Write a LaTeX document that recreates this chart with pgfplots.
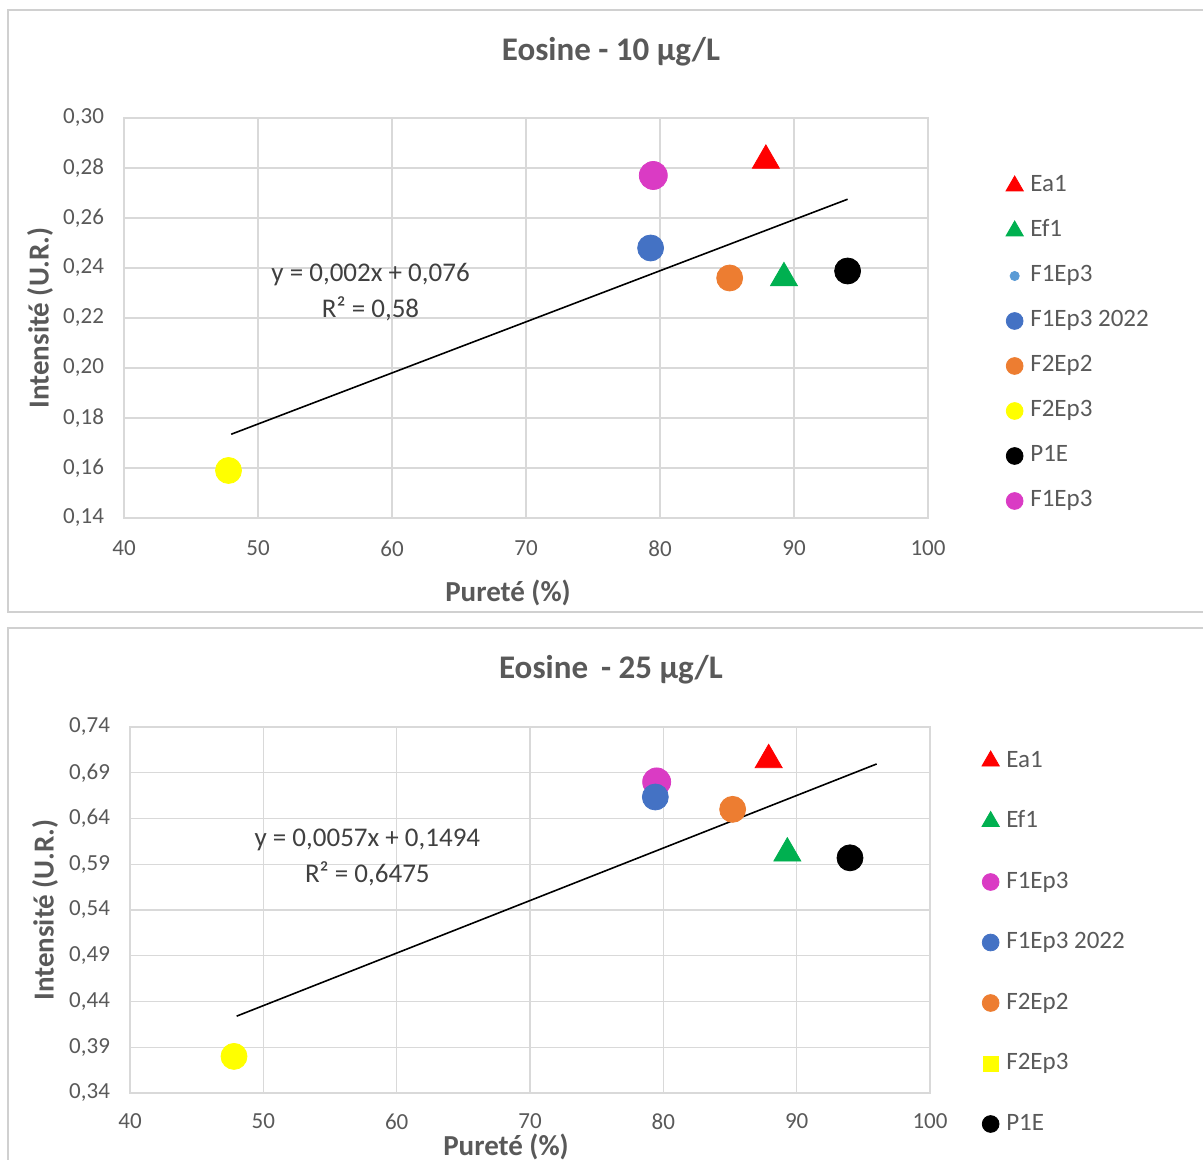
\documentclass[border=0pt]{standalone}
\usepackage{fontspec}
\setmainfont{Carlito}
\usepackage{pgfplots}
\pgfplotsset{compat=1.18}
\definecolor{txt}{HTML}{595959}
\definecolor{eqc}{HTML}{404040}
\definecolor{gridc}{HTML}{D9D9D9}
\definecolor{panelc}{HTML}{D0D0D0}
\definecolor{cred}{HTML}{FF0000}
\definecolor{cgreen}{HTML}{00B050}
\definecolor{cblue}{HTML}{4472C4}
\definecolor{clblue}{HTML}{5B9BD5}
\definecolor{corange}{HTML}{ED7D31}
\definecolor{cyellow}{HTML}{FFFF00}
\definecolor{cmag}{HTML}{DA3BC4}
\pgfplotsset{
  common/.style={
    scale only axis,
    xmin=40, xmax=100, xtick={40,50,60,70,80,90,100},
    grid=major, major grid style={gridc, line width=0.6pt},
    axis line style={gridc, line width=0.6pt},
    major tick length=0pt,
    /pgf/number format/assume math mode=true,
    ticklabel style={font=\fontsize{11.5}{13}\selectfont, text=txt},
    yticklabel style={/pgf/number format/fixed, /pgf/number format/fixed zerofill,
      /pgf/number format/precision=2, /pgf/number format/use comma},
    label style={font=\bfseries\fontsize{14.5}{17}\selectfont, text=txt},
    title style={font=\bfseries\fontsize{16.5}{19}\selectfont, text=txt},
    legend cell align=left,
    legend image code/.code={\draw[#1,only marks] plot coordinates {(0.15cm,0cm)};},
    legend style={draw=none, fill=none, inner sep=0pt, outer sep=0pt,
      anchor=north west, column sep=2.5pt,
      font=\fontsize{12.5}{14}\selectfont, text=txt,
      nodes={inner sep=1pt, text height=9pt, text depth=3pt}},
  },
  tri/.style={only marks, mark=triangle*, mark size=7.8pt, legend image post style={mark size=5pt}},
  dot/.style={only marks, mark=*, mark size=6.5pt, legend image post style={mark size=4.2pt}},
}
\begin{document}
\begin{tikzpicture}
\useasboundingbox (0,0) rectangle (601.5pt,580pt);
\draw[panelc, line width=0.6pt] (4pt,274pt) rectangle (603pt,575pt);
\draw[panelc, line width=0.6pt] (4pt,-2pt) -- (4pt,266pt) -- (603pt,266pt);

\begin{axis}[common,
  at={(62pt,321pt)}, anchor=south west, width=402pt, height=200pt,
  ymin=0.14, ymax=0.30, ytick={0.14,0.16,0.18,0.20,0.22,0.24,0.26,0.28,0.30},
  xticklabel style={yshift=-8pt},
  yticklabel style={xshift=-6.5pt},
  title={Eosine - 10 µg/L},
  title style={at={(axis description cs:0.5,1)}, anchor=center, xshift=42.5pt, yshift=27pt},
  xlabel={Pureté (\%)},
  xlabel style={at={(axis description cs:0.5,0)}, anchor=center, xshift=-9pt, yshift=-37.5pt},
  ylabel={Intensité (U.R.)},
  ylabel style={at={(axis description cs:-0.1045,0.5)}, anchor=center},
  legend style={at={(axis description cs:1,1)}, xshift=39pt, yshift=-27pt,
    row sep=8.5pt},
]
\addplot[tri, color=cred] coordinates {(87.9,0.283)};
\addlegendentry{Ea1}
\addplot[tri, color=cgreen] coordinates {(89.25,0.236)};
\addlegendentry{Ef1}
\addlegendimage{only marks, mark=*, color=clblue, mark size=2.3pt}
\addlegendentry{F1Ep3}
\addplot[dot, color=cblue] coordinates {(79.3,0.248)};
\addlegendentry{F1Ep3 2022}
\addplot[dot, color=corange] coordinates {(85.2,0.236)};
\addlegendentry{F2Ep2}
\addplot[dot, color=cyellow] coordinates {(47.8,0.159)};
\addlegendentry{F2Ep3}
\addplot[dot, color=black] coordinates {(94.0,0.2388)};
\addlegendentry{P1E}
\addplot[dot, color=cmag, mark size=7pt] coordinates {(79.5,0.277)};
\addlegendentry{F1Ep3}
\addplot[black, line width=0.8pt, forget plot] coordinates {(48,0.1735) (94,0.2675)};
\node[text=eqc, font=\fontsize{13.5}{15}\selectfont] at (axis cs:58.4,0.2372) {y = 0,002x + 0,076};
\node[text=eqc, font=\fontsize{13.5}{15}\selectfont] at (axis cs:58.4,0.2236) {R² = 0,58};
\end{axis}

\begin{axis}[common,
  at={(65pt,33.5pt)}, anchor=south west, width=400pt, height=183pt,
  ymin=0.34, ymax=0.74, ytick={0.34,0.39,0.44,0.49,0.54,0.59,0.64,0.69,0.74},
  xticklabel style={yshift=-7pt},
  yticklabel style={xshift=-6.5pt},
  title={Eosine \,- 25 µg/L},
  title style={at={(axis description cs:0.5,1)}, anchor=center, xshift=40.5pt, yshift=22.5pt},
  xlabel={Pureté (\%)},
  xlabel style={at={(axis description cs:0.5,0)}, anchor=center, xshift=-12pt, yshift=-27pt},
  ylabel={Intensité (U.R.)},
  ylabel style={at={(axis description cs:-0.10625,0.5)}, anchor=center},
  legend style={at={(axis description cs:1,1)}, xshift=26pt, yshift=-10pt,
    row sep=16.25pt},
]
\addplot[tri, color=cred] coordinates {(87.9,0.704)};
\addlegendentry{Ea1}
\addplot[tri, color=cgreen] coordinates {(89.3,0.602)};
\addlegendentry{Ef1}
\addplot[dot, color=cmag, mark size=7pt] coordinates {(79.5,0.680)};
\addlegendentry{F1Ep3}
\addplot[dot, color=cblue] coordinates {(79.4,0.6635)};
\addlegendentry{F1Ep3 2022}
\addplot[dot, color=corange] coordinates {(85.2,0.650)};
\addlegendentry{F2Ep2}
\addplot[dot, color=cyellow, legend image post style={mark=square*, mark size=3.8pt}] coordinates {(47.8,0.380)};
\addlegendentry{F2Ep3}
\addplot[dot, color=black] coordinates {(94.0,0.597)};
\addlegendentry{P1E}
\addplot[black, line width=0.8pt, forget plot] coordinates {(48,0.424) (96,0.6996)};
\node[text=eqc, font=\fontsize{13.5}{15}\selectfont] at (axis cs:57.8,0.6165) {y = 0,0057x + 0,1494};
\node[text=eqc, font=\fontsize{13.5}{15}\selectfont] at (axis cs:57.8,0.580) {R² = 0,6475};
\end{axis}
\end{tikzpicture}
\end{document}
